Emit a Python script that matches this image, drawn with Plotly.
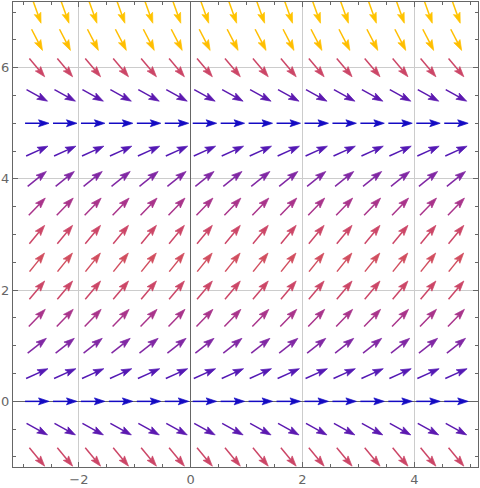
import numpy as np
import plotly.graph_objects as go
from plotly.colors import sample_colorscale

# ---- data (slope field of y' = f(y)) ----
x_cols = [-2.75, -2.25, -1.75, -1.25, -0.75, -0.25, 0.25, 0.75,
          1.25, 1.75, 2.25, 2.75, 3.25, 3.75, 4.25, 4.75]
y_rows = [-1.0, -0.5, 0.0, 0.5, 1.0, 1.5, 2.0, 2.5, 3.0,
          3.5, 4.0, 4.5, 5.0, 5.5, 6.0, 6.5, 7.0]
slopes = [-1.2, -0.55, 0.0, 0.45, 0.8, 1.05, 1.2, 1.25, 1.2,
          1.05, 0.8, 0.45, 0.0, -0.55, -1.2, -1.95, -2.8]
x_ticks = [-2, 0, 2, 4]
y_ticks = [0, 2, 4, 6]

# colour gradient by vector magnitude (normalised)
colorscale = [
    [0.00, "rgb(20,10,195)"],
    [0.05, "rgb(85,25,180)"],
    [0.08, "rgb(95,25,175)"],
    [0.14, "rgb(128,40,165)"],
    [0.23, "rgb(170,52,138)"],
    [0.29, "rgb(207,72,100)"],
    [0.60, "rgb(255,190,0)"],
    [1.00, "rgb(255,195,0)"],
]

PX_PER_UNIT = 56.0
ARROW_LEN = 24.0 / PX_PER_UNIT
HEAD_LEN = 10.5 / PX_PER_UNIT
HEAD_HW = 3.5 / PX_PER_UNIT
NOTCH = 2.0 / PX_PER_UNIT

mags = [np.hypot(1.0, s) for s in slopes]
mmin, mmax = min(mags), max(mags)

fig = go.Figure()
for yv, s, m in zip(y_rows, slopes, mags):
    t = (m - mmin) / (mmax - mmin)
    col = sample_colorscale(colorscale, [t])[0]
    d = np.array([1.0, s]) / np.hypot(1.0, s)
    n = np.array([-d[1], d[0]])
    sx, sy, hx, hy = [], [], [], []
    for xv in x_cols:
        c = np.array([xv, yv])
        tail = c - d * ARROW_LEN / 2
        tip = c + d * ARROW_LEN / 2
        base = tip - d * HEAD_LEN
        notch = base + d * NOTCH
        left = base + n * HEAD_HW
        right = base - n * HEAD_HW
        sx += [tail[0], notch[0], None]
        sy += [tail[1], notch[1], None]
        hx += [tip[0], left[0], notch[0], right[0], tip[0], None]
        hy += [tip[1], left[1], notch[1], right[1], tip[1], None]
    fig.add_trace(go.Scatter(x=sx, y=sy, mode="lines",
                             line=dict(color=col, width=1.5),
                             hoverinfo="skip", showlegend=False))
    fig.add_trace(go.Scatter(x=hx, y=hy, mode="lines", fill="toself",
                             fillcolor=col, line=dict(color=col, width=0.7),
                             hoverinfo="skip", showlegend=False))

axis_common = dict(
    ticks="inside", ticklen=5, tickcolor="#666666", tickwidth=1,
    showline=True, linecolor="#666666", linewidth=1, mirror="allticks",
    showgrid=True, gridcolor="#cccccc", gridwidth=1,
    zeroline=True, zerolinecolor="#666666", zerolinewidth=1,
    tickfont=dict(family="DejaVu Sans", size=13, color="#666666"),
    minor=dict(dtick=0.5, ticks="inside", ticklen=3, tickcolor="#666666",
               showgrid=False),
    layer="below traces",
)

fig.update_layout(
    width=480, height=488,
    margin=dict(l=12, r=2, t=1, b=19),
    plot_bgcolor="white", paper_bgcolor="white",
    xaxis=dict(range=[-3.18, 5.14], tickvals=x_ticks, **axis_common),
    yaxis=dict(range=[-1.18, 7.18], tickvals=y_ticks, **axis_common),
)

fig.write_html("out.html")
